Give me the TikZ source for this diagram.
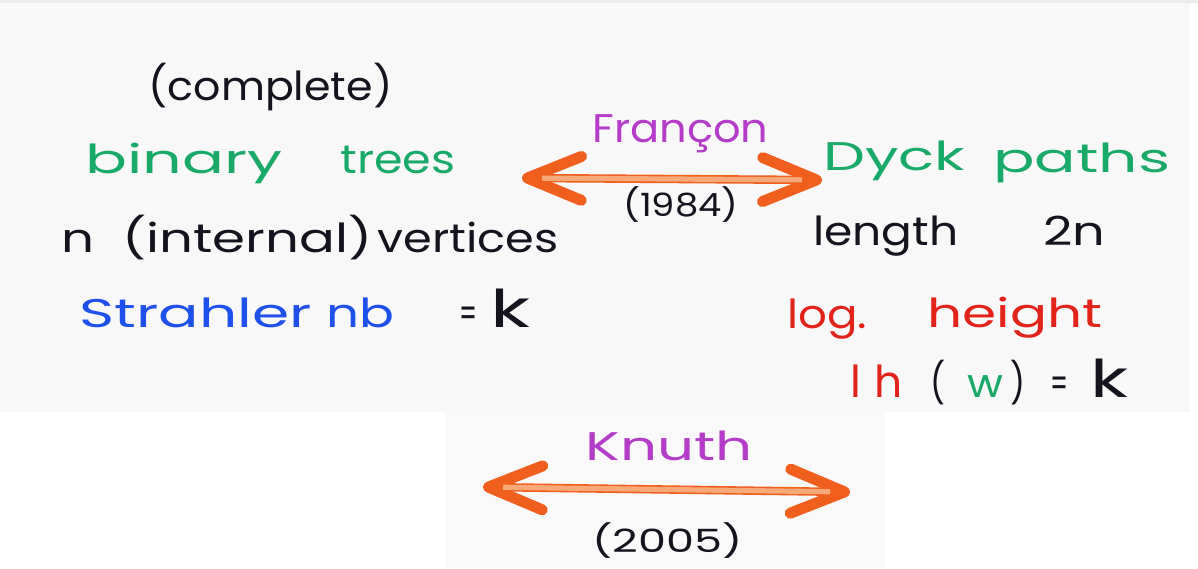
\documentclass[tikz,border=0pt]{standalone}
\usepackage{fontspec}
\usepackage{graphicx}
\usetikzlibrary{arrows.meta}
\newfontfamily\hand{Poppins}
\newfontfamily\handsp[LetterSpace=30]{Poppins}
\newdimen\px \px=0.5pt
\newcommand\fitw[2]{\resizebox{#1\px}{\height}{#2}}
\definecolor{pgreen}{RGB}{25,170,105}
\definecolor{ppurple}{RGB}{180,60,200}
\definecolor{pblue}{RGB}{30,80,235}
\definecolor{pred}{RGB}{225,35,25}
\definecolor{pblack}{RGB}{20,20,30}
\definecolor{odark}{RGB}{240,95,30}
\definecolor{olight}{RGB}{247,170,120}
\definecolor{paper}{RGB}{248,248,248}
\definecolor{paperb}{RGB}{249,249,249}
\definecolor{edge}{RGB}{236,236,236}
\tikzset{
  txt/.style={anchor=base west, inner sep=0pt, text=pblack, font=\hand\fontsize{20}{24}\selectfont},
  small/.style={font=\hand\fontsize{16}{20}\selectfont},
  big/.style={font=\hand\fontsize{26}{30}\selectfont},
  spaced/.style={font=\handsp\fontsize{22}{26}\selectfont},
  hd/.tip={Straight Barb[length=27pt, width=22pt, line width=5.5pt, line cap=round, line join=round]},
  arrdark/.style={draw=odark, line width=4.2pt, {hd}-{hd}},
  arrlight/.style={draw=olight, line width=2.6pt, shorten <=10pt, shorten >=10pt}
}
\begin{document}
\begin{tikzpicture}[x=0.5pt, y=-0.5pt]
\useasboundingbox (0,0) rectangle (1198,568);
% paper
\fill[paper] (0,0) rectangle (1190,412);
\fill[edge] (0,0) rectangle (1198,3);
\fill[paperb] (445,412) rectangle (885,568);

% left block
\node[txt] (comp) at (148,100) {\fitw{244}{(complete)}};
\node[txt, text=pgreen] (bin) at (85,173) {\fitw{197}{binary}};
\node[txt, text=pgreen] (trees) at (340,173) {\fitw{115}{trees}};
\node[txt] (n) at (61,252) {\fitw{33}{n}};
\node[txt] (internal) at (122,252) {\fitw{250}{(internal)}};
\node[txt] (vert) at (377,252) {\fitw{181}{vertices}};
\node[txt, text=pblue] (strahler) at (79,327) {\fitw{232}{Strahler}};
\node[txt, text=pblue] (nb) at (326,327) {\fitw{68}{nb}};
\node[txt] (eqa) at (459,327) {\fitw{18}{=}};
\node[txt, big] (ka) at (490,327) {\fitw{40}{k}};

% middle
\node[txt, text=ppurple] (fr) at (592,142) {\fitw{176}{Françon}};
\node[txt, small] (y84) at (623,216) {\fitw{115}{(1984)}};
\coordinate (a1l) at (522,178);
\coordinate (a1r) at (822,180);
\draw[arrdark] (a1l) -- (a1r);
\draw[arrlight] (a1l) -- (a1r);

% right block
\node[txt, text=pgreen] (dyck) at (823,170) {\fitw{142}{Dyck}};
\node[txt, text=pgreen] (paths) at (993,172) {\fitw{177}{paths}};
\node[txt] (length) at (813,245) {\fitw{145}{length}};
\node[txt] (twon) at (1043,245) {\fitw{62}{2n}};
\node[txt, text=pred] (log) at (787,328) {\fitw{80}{log.}};
\node[txt, text=pred] (height) at (927,327) {\fitw{175}{height}};
\node[txt, spaced, text=pred] (lh) at (850,397) {lh};
\node[txt] (lp) at (930,397) {\fitw{15}{(}};
\node[txt, text=pgreen] (w) at (967,397) {\fitw{36}{w}};
\node[txt] (rp) at (1010,397) {\fitw{15}{)}};
\node[txt] (eqb) at (1050,397) {\fitw{18}{=}};
\node[txt, big] (kb) at (1090,397) {\fitw{38}{k}};

% bottom
\node[txt, text=ppurple] (knuth) at (585,460) {\fitw{167}{Knuth}};
\node[txt, small] (y05) at (592,552) {\fitw{150}{(2005)}};
\coordinate (a2l) at (483,487);
\coordinate (a2r) at (850,492);
\draw[arrdark] (a2l) -- (a2r);
\draw[arrlight] (a2l) -- (a2r);
\end{tikzpicture}
\end{document}
